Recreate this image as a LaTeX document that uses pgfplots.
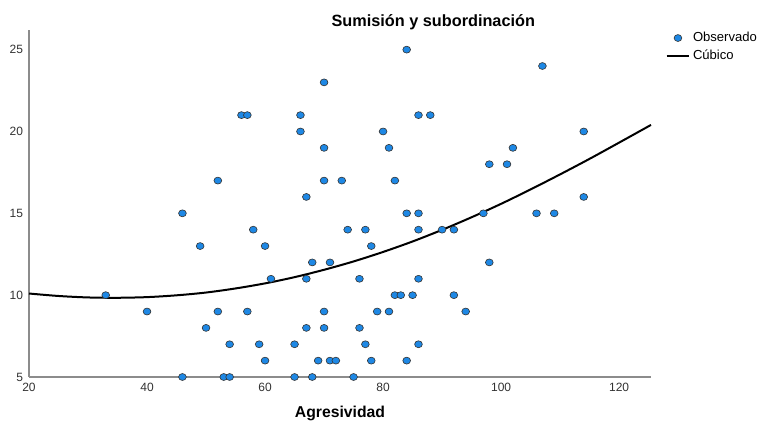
\documentclass[border=0pt]{standalone}
\usepackage{pgfplots}
\pgfplotsset{compat=1.18}
\usepackage{pgfplotstable}
\usepackage{fontspec}
\setmainfont{Liberation Sans}

\definecolor{obsblue}{RGB}{30,136,229}
\definecolor{axgray}{RGB}{140,140,140}
\definecolor{lblgray}{RGB}{50,50,50}

% observed values (Agresividad, Sumision y subordinacion)
\pgfplotstableread{
x y
84 25
107 24
70 23
56 21
57 21
66 21
86 21
88 21
66 20
80 20
114 20
70 19
81 19
102 19
98 18
101 18
52 17
70 17
73 17
82 17
67 16
114 16
46 15
84 15
86 15
97 15
106 15
109 15
58 14
74 14
77 14
86 14
90 14
92 14
49 13
60 13
78 13
68 12
71 12
98 12
61 11
67 11
76 11
86 11
33 10
82 10
83 10
85 10
92 10
40 9
52 9
57 9
70 9
79 9
81 9
94 9
50 8
67 8
70 8
76 8
54 7
59 7
65 7
77 7
86 7
60 6
69 6
71 6
72 6
78 6
84 6
46 5
53 5
54 5
65 5
68 5
75 5
}\observed

% cubic fit
\pgfplotstableread{
x y
20 10.10
25 9.95
30 9.86
35 9.84
40 9.88
45 9.99
50 10.16
55 10.41
60 10.72
65 11.10
70 11.55
75 12.06
80 12.64
85 13.28
90 13.99
95 14.76
100 15.58
105 16.46
110 17.38
115 18.33
120 19.32
125.4 20.40
}\cubic

\begin{document}
\begin{tikzpicture}
\path[use as bounding box] (-21.75pt,-33pt) rectangle (546.75pt,282.75pt);
\begin{axis}[
  at={(0pt,0pt)}, anchor=south west,
  scale only axis,
  width=466.5pt, height=260.25pt,
  xmin=20, xmax=125.4, ymin=5, ymax=26.2,
  axis x line*=bottom, axis y line*=left,
  axis line style={axgray, line width=0.8pt, -},
  xtick={20,40,60,80,100,120},
  ytick={5,10,15,20,25},
  major tick length=0pt,
  tick label style={font=\fontsize{9}{10}\selectfont, text=lblgray},
  /pgf/number format/assume math mode=true,
  xticklabel style={yshift=-1pt},
  yticklabel style={xshift=-1pt},
  clip=false,
  xlabel={\textbf{Agresividad}},
  xlabel style={font=\fontsize{11.8}{13}\selectfont, at={(axis description cs:0.5,-0.106)}, anchor=center},
  title={\textbf{Sumisión y subordinación}},
  title style={font=\fontsize{12.2}{14}\selectfont, at={(axis description cs:0.65,1.0)}, anchor=center},
  legend style={at={(rel axis cs:1.023,0.998)}, anchor=north west, draw=none, fill=none,
    font=\fontsize{9.8}{11}\selectfont, inner sep=0pt, row sep=2.5pt,
    nodes={inner xsep=2pt, inner ysep=1pt}},
  legend cell align=left,
]
\addplot[only marks, mark=*, mark size=2.6pt,
  mark options={fill=obsblue, draw=black!80, line width=0.45pt, xscale=1.12}]
  table[x=x, y=y] {\observed};
\addlegendentry{Observado}
\addplot[black, line width=1.5pt, smooth, no marks] table[x=x, y=y] {\cubic};
\addlegendentry{Cúbico}
\end{axis}
\end{tikzpicture}
\end{document}
